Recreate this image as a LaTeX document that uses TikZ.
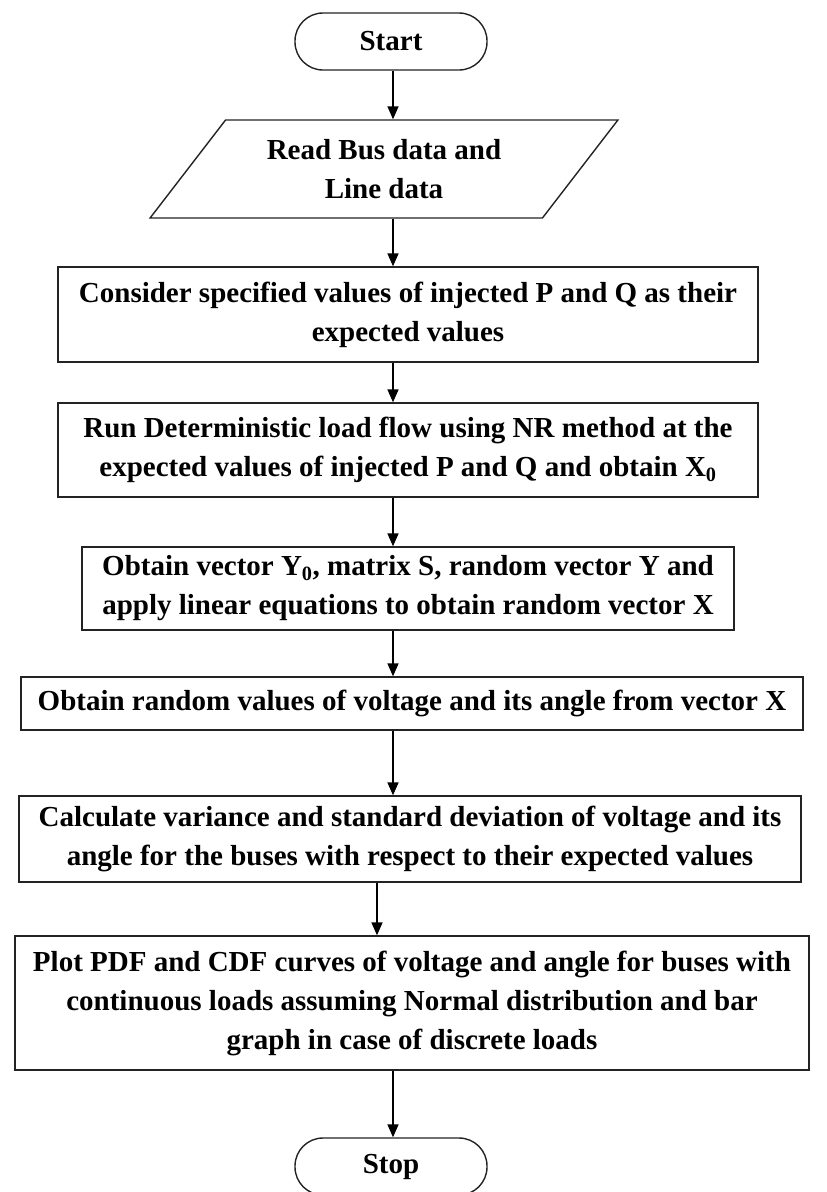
\documentclass[tikz,border=0pt]{standalone}
\usepackage{fontspec}
\setmainfont{Liberation Serif}
\usetikzlibrary{positioning,arrows.meta,shapes.geometric}
\definecolor{edgeclr}{RGB}{35,35,35}
\tikzset{
  termbox/.style={rectangle,rounded corners=28pt,draw=edgeclr,line width=1.4pt,
                  minimum width=192pt,minimum height=57pt,inner sep=2pt},
  iobox/.style={trapezium,trapezium left angle=49,trapezium right angle=131,
                trapezium stretches=true,draw=edgeclr,line width=1.4pt,
                minimum width=468pt,minimum height=98pt,align=center},
  procbox/.style={rectangle,draw=edgeclr,line width=1.4pt,align=center,inner sep=4pt},
  flow/.style={-{Triangle[length=13pt,width=11pt]},line width=1.6pt},
}

\begin{document}
\begin{tikzpicture}[x=1pt, y=-1pt, font=\fontsize{29}{39}\selectfont\bfseries]
\useasboundingbox (0,0) rectangle (827,1192);
\coordinate (spine) at (393,0);
\coordinate (offspine) at (377,0);

% Terminals and steps
\node[termbox] (start) at (391,41.5) {Start};
\node[iobox] (readdata) at (384,169) {Read Bus data and\\Line data};
\node[procbox,minimum width=700pt,minimum height=95pt] (expval) at (408,314.5)
  {Consider specified values of injected P and Q as their\\expected values};
\node[procbox,minimum width=700pt,minimum height=94pt] (loadflow) at (408,450)
  {Run Deterministic load flow using NR method at the\\expected values of injected P and Q and obtain X\textsubscript{0}};
\node[procbox,minimum width=652pt,minimum height=83pt] (linsys) at (408,588.5)
  {Obtain vector Y\textsubscript{0}, matrix S, random vector Y and\\apply linear equations to obtain random vector X};
\node[procbox,minimum width=782pt,minimum height=53pt] (randval) at (412,703.5)
  {Obtain random values of voltage and its angle from vector X};
\node[procbox,minimum width=782pt,minimum height=86pt] (variance) at (410,839)
  {Calculate variance and standard deviation of voltage and its\\angle for the buses with respect to their expected values};
\node[procbox,minimum width=794pt,minimum height=134pt] (plotres) at (412,1003)
  {Plot PDF and CDF curves of voltage and angle for buses with\\continuous loads assuming Normal distribution and bar\\graph in case of discrete loads};
\node[termbox] (stop) at (391,1166.5) {Stop};

% Flow arrows
\draw[flow] (start.south -| spine) -- (readdata.north -| spine);
\draw[flow] (readdata.south -| spine) -- (expval.north -| spine);
\draw[flow] (expval.south -| spine) -- (loadflow.north -| spine);
\draw[flow] (loadflow.south -| spine) -- (linsys.north -| spine);
\draw[flow] (linsys.south -| spine) -- (randval.north -| spine);
\draw[flow] (randval.south -| spine) -- (variance.north -| spine);
\draw[flow] (variance.south -| offspine) -- (plotres.north -| offspine);
\draw[flow] (plotres.south -| spine) -- (stop.north -| spine);
\end{tikzpicture}
\end{document}
